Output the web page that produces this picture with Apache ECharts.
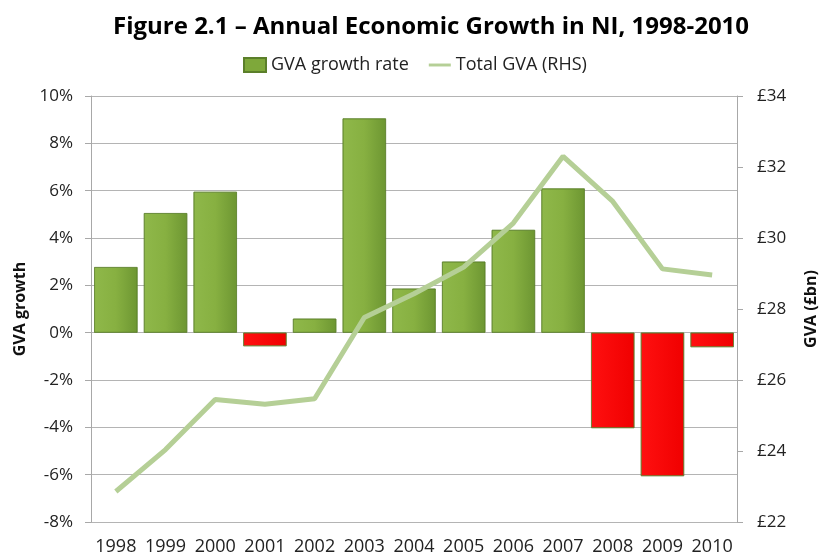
<!DOCTYPE html>
<html>
<head>
<meta charset="utf-8">
<script src="https://cdn.jsdelivr.net/npm/echarts@6/dist/echarts.min.js"></script>
<style>
  html, body { margin: 0; padding: 0; background: #fff; }
  #main { width: 820px; height: 559px; }
</style>
</head>
<body>
<div id="main"></div>
<script>
const years = ['1998', '1999', '2000', '2001', '2002', '2003', '2004', '2005', '2006', '2007', '2008', '2009', '2010']
const growthRate = [2.77, 5.05, 5.95, -0.57, 0.59, 9.05, 1.86, 3.0, 4.34, 6.09, -4.03, -6.06, -0.61]
const totalGva = [22.86, 24.04, 25.45, 25.32, 25.47, 27.76, 28.43, 29.18, 30.42, 32.3, 31.03, 29.13, 28.96]

const font = '"Open Sans", "Liberation Sans", sans-serif'
const chart = echarts.init(document.getElementById('main'))

// bevelled-look bars like the excel original
const greenBar = new echarts.graphic.LinearGradient(0, 0, 1, 0, [
  { offset: 0, color: '#8fb84a' },
  { offset: 0.5, color: '#87b041' },
  { offset: 1, color: '#6d9632' }
])
const redBar = new echarts.graphic.LinearGradient(0, 0, 1, 0, [
  { offset: 0, color: '#ff1010' },
  { offset: 1, color: '#f00000' }
])

const option = {
  backgroundColor: '#fff',
  textStyle: { fontFamily: font },
  title: {
    text: 'Figure 2.1 – Annual Economic Growth in NI, 1998-2010',
    left: 108,
    top: 10,
    textStyle: { fontFamily: font, fontSize: 24, fontWeight: 'bold', color: '#000' }
  },
  legend: {
    top: 51,
    left: 238,
    itemGap: 20,
    itemWidth: 22,
    itemHeight: 14,
    textStyle: { fontFamily: font, fontSize: 18, color: '#222' },
    data: [
      { name: 'GVA growth rate', icon: 'rect', itemStyle: { color: '#7ea83a' } },
      { name: 'Total GVA (RHS)', icon: 'path://M0,5 L30,5 L30,9 L0,9 Z', itemStyle: { color: '#b5cf96' } }
    ]
  },
  grid: { left: 91, right: 83, top: 96, bottom: 37, outerBoundsMode: 'none' },
  xAxis: {
    type: 'category',
    data: years,
    axisLine: { show: false },
    axisTick: { show: false },
    axisLabel: { color: '#222', fontSize: 18, fontFamily: font, margin: 16, interval: 0 },
    position: 'bottom'
  },
  yAxis: [
    {
      type: 'value',
      min: -8,
      max: 10,
      interval: 2,
      name: 'GVA growth',
      nameLocation: 'middle',
      nameRotate: 90,
      nameGap: 61,
      nameTextStyle: { fontFamily: font, fontSize: 16, fontWeight: 'bold', color: '#111' },
      axisLine: { show: true, lineStyle: { color: '#a8a8a8' } },
      axisTick: { show: true, length: 6, lineStyle: { color: '#a8a8a8' } },
      axisLabel: { color: '#222', fontSize: 17, fontFamily: font, margin: 18, formatter: '{value}%' },
      splitLine: { lineStyle: { color: '#b4b4b4' } }
    },
    {
      type: 'value',
      min: 22,
      max: 34,
      interval: 2,
      position: 'right',
      name: 'GVA (£bn)',
      nameLocation: 'middle',
      nameRotate: 90,
      nameGap: 66,
      nameTextStyle: { fontFamily: font, fontSize: 16, fontWeight: 'bold', color: '#111' },
      axisLine: { show: true, lineStyle: { color: '#a8a8a8' } },
      axisTick: { show: true, length: 6, lineStyle: { color: '#a8a8a8' } },
      axisLabel: { color: '#222', fontSize: 17, fontFamily: font, margin: 20, formatter: '£{value}' },
      splitLine: { show: false }
    }
  ],
  series: [
    {
      name: 'GVA growth rate',
      type: 'bar',
      yAxisIndex: 0,
      barCategoryGap: '13%',
      data: growthRate,
      itemStyle: {
        color: (params) => params.value < 0 ? redBar : greenBar,
        borderColor: '#5b7f2a',
        borderWidth: 0.6
      }
    },
    {
      name: 'Total GVA (RHS)',
      type: 'line',
      yAxisIndex: 1,
      data: totalGva,
      symbol: 'none',
      lineStyle: { color: '#b5cf96', width: 5 },
      itemStyle: { color: '#b5cf96' },
      z: 3
    }
  ]
}
chart.setOption(option)
</script>
</body>
</html>
